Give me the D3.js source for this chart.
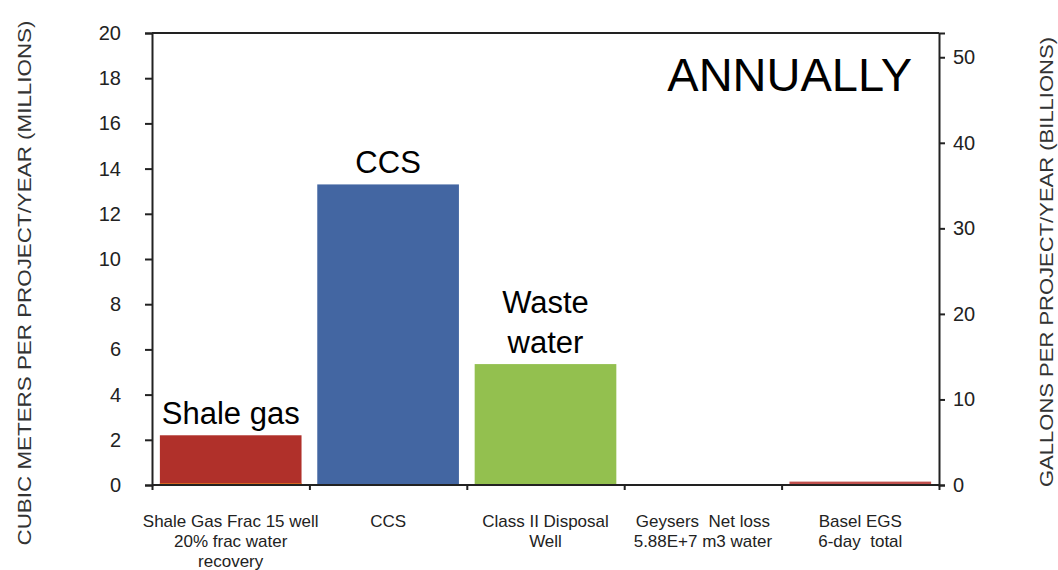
<!DOCTYPE html>
<html><head><meta charset="utf-8">
<script src="https://cdn.jsdelivr.net/npm/d3@7"></script>
<style>body{margin:0;background:#fff;} text{font-family:"Liberation Sans",Arial,sans-serif;}</style>
</head><body><svg id="c" width="1058" height="570"></svg>
<script>
const categories = [
  ["Shale Gas Frac 15 well","20% frac water","recovery"],
  ["CCS"],
  ["Class II Disposal","Well"],
  ["Geysers  Net loss","5.88E+7 m3 water"],
  ["Basel EGS","6-day  total"]
];
const keys = ["shale","ccs","waste","geysers","basel"];
const values = [2.2, 13.3, 5.35, 0, 0.15];
const baseStrip = [0.08, 0, 0, 0, 0];
const barColors = ["#b0302a","#4366a2","#93c04f","#c0504d","#c0504d"];
const barLabels = [["Shale gas"],["CCS"],["Waste","water"],[],[]];
const leftTicks = [0,2,4,6,8,10,12,14,16,18,20];
const rightTicks = [0,10,20,30,40,50];
const leftMax = 20;
const rightMax = 20 * 0.26417 * 10; // gallons scale (billions) as drawn

const svg = d3.select("#c");
const L = 152, R = 939, T = 33, B = 485;
const x = d3.scaleBand().domain(keys).range([L, R]).paddingInner(0.1).paddingOuter(0.05);
const y = d3.scaleLinear().domain([0, leftMax]).range([B, T]);
const y2 = d3.scaleLinear().domain([0, rightMax]).range([B, T]);

// bars
svg.selectAll("rect.bar").data(keys).join("rect")
  .attr("x", d => x(d)).attr("width", x.bandwidth())
  .attr("y", (d,i) => y(values[i])).attr("height", (d,i) => B - y(values[i]))
  .attr("fill", (d,i) => barColors[i]);
svg.selectAll("rect.strip").data(keys.filter((d,i)=>baseStrip[i]>0)).join("rect")
  .attr("x", d => x(d)).attr("width", x.bandwidth())
  .attr("y", d => y(baseStrip[keys.indexOf(d)])).attr("height", d => B - y(baseStrip[keys.indexOf(d)]))
  .attr("fill", "#e07020");

// frame
const ax = "#222";
svg.append("line").attr("x1",L).attr("x2",R).attr("y1",T).attr("y2",T).attr("stroke",ax).attr("stroke-width",2);

// left axis
const gl = svg.append("g").attr("transform",`translate(${L},0)`)
  .call(d3.axisLeft(y).tickValues(leftTicks).tickSize(7).tickPadding(24));
// right axis
const gr = svg.append("g").attr("transform",`translate(${R},0)`)
  .call(d3.axisRight(y2).tickValues(rightTicks).tickSize(6).tickPadding(8));
// bottom axis
const xb = d3.scaleLinear().domain([0,5]).range([L,R]);
const gb = svg.append("g").attr("transform",`translate(0,${B})`)
  .call(d3.axisBottom(xb).tickValues([0,1,2,3,4,5]).tickSize(5).tickFormat(""));
[gl,gr,gb].forEach(g => {
  g.select(".domain").attr("stroke",ax).attr("stroke-width",2);
  g.selectAll(".tick line").attr("stroke",ax).attr("stroke-width",2);
  g.selectAll("text").attr("font-size",20).attr("fill","#222")
    .style("font-family","'Liberation Sans',Arial,sans-serif");
});
gb.select(".domain").attr("d",`M${L},0H${R}`);

// category labels
categories.forEach((lines,i) => {
  const cx = x(keys[i]) + x.bandwidth()/2;
  const t = svg.append("text").attr("text-anchor","middle").attr("font-size",17).attr("fill","#222")
    .style("white-space","pre");
  lines.forEach((s,j) => t.append("tspan").attr("x",cx).attr("y",527 + j*20).text(s));
});

// bar labels
barLabels.forEach((lines,i) => {
  if (!lines.length) return;
  const cx = x(keys[i]) + x.bandwidth()/2;
  const top = y(values[i]);
  const n = lines.length;
  lines.forEach((s,j) => svg.append("text").attr("x",cx).attr("y", top - 11 - (n-1-j)*40)
    .attr("text-anchor","middle").attr("font-size",31).attr("fill","#000").text(s));
});

svg.append("text").attr("x",912).attr("y",91).attr("text-anchor","end")
  .attr("font-size",47).attr("fill","#000").text("ANNUALLY");

svg.append("text").attr("transform","translate(31,283) rotate(-90)").attr("text-anchor","middle")
  .attr("font-size",19).attr("fill","#333").attr("textLength",525).attr("lengthAdjust","spacingAndGlyphs")
  .text("CUBIC METERS PER PROJECT/YEAR (MILLIONS)");
svg.append("text").attr("transform","translate(1053,262) rotate(-90)").attr("text-anchor","middle")
  .attr("font-size",18).attr("fill","#333").attr("textLength",450).attr("lengthAdjust","spacingAndGlyphs")
  .text("GALLONS PER PROJECT/YEAR (BILLIONS)");
</script></body></html>
